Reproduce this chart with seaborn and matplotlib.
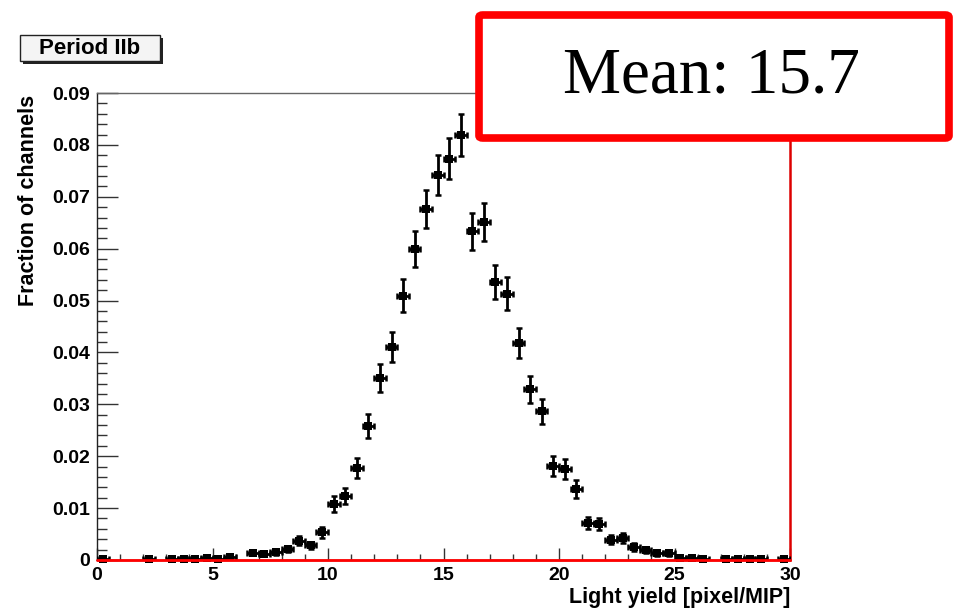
import numpy as np
import pandas as pd
import matplotlib
matplotlib.use("Agg")
import matplotlib.pyplot as plt
from matplotlib.patches import FancyBboxPatch, Rectangle
from matplotlib.ticker import MultipleLocator, FixedLocator
import seaborn as sns

# ---------------- data ----------------
bin_centers = [0.25, 2.25, 3.25, 3.75, 4.25, 4.75, 5.25, 5.75,
               6.75, 7.25, 7.75, 8.25, 8.75, 9.25, 9.75, 10.25, 10.75,
               11.25, 11.75, 12.25, 12.75, 13.25, 13.75, 14.25, 14.75,
               15.25, 15.75,
               16.25, 16.75, 17.25, 17.75, 18.25, 18.75, 19.25, 19.75,
               20.25, 20.75, 21.25, 21.75, 22.25, 22.75, 23.25, 23.75,
               24.25, 24.75, 25.25, 25.75,
               26.25, 27.25, 27.75, 28.25, 28.75, 29.75]
fractions = [0.0002, 0.0002, 0.0002, 0.0002, 0.0002, 0.0004, 0.0002, 0.0006,
             0.0014, 0.0012, 0.0016, 0.0021, 0.0037, 0.0028, 0.0053, 0.0108, 0.0123,
             0.0177, 0.0258, 0.0351, 0.0410, 0.0509, 0.0599, 0.0676, 0.0742,
             0.0773, 0.0819,
             0.0634, 0.0651, 0.0536, 0.0513, 0.0418, 0.0329, 0.0287, 0.0181,
             0.0175, 0.0137, 0.0071, 0.0069, 0.0039, 0.0042, 0.0025, 0.0019,
             0.0013, 0.0013, 0.0004, 0.0004,
             0.0002, 0.0002, 0.0002, 0.0002, 0.0002, 0.0002]
BIN_WIDTH = 0.5
N_CHANNELS = 5000          # Poisson errors: sqrt(N)/total
x_ticks = [0, 5, 10, 15, 20, 25, 30]
y_ticks = [0, 0.01, 0.02, 0.03, 0.04, 0.05, 0.06, 0.07, 0.08, 0.09]
y_tick_labels = ["0", "0.01", "0.02", "0.03", "0.04", "0.05", "0.06", "0.07", "0.08", "0.09"]
x_label = "Light yield [pixel/MIP]"
y_label = "Fraction of channels"
period_label = "Period IIb"
mean_label = "Mean: 15.7"

df = pd.DataFrame({"x": bin_centers, "y": fractions})
df["yerr"] = np.sqrt(df["y"] / N_CHANNELS)
df["xerr"] = BIN_WIDTH / 2

# ---------------- figure ----------------
sns.set_theme(style="white")
plt.rcParams["font.family"] = ["Liberation Sans", "DejaVu Sans"]
plt.rcParams["text.color"] = "black"
plt.rcParams["xtick.color"] = "black"
plt.rcParams["ytick.color"] = "black"

W, H = 961, 609
fig = plt.figure(figsize=(W / 100, H / 100), dpi=100)
fig.patch.set_facecolor("white")

def fx(px):
    return px / W

def fy(py):
    return 1 - py / H

ax_l, ax_r, ax_t, ax_b = 97, 790, 93, 560
ax = fig.add_axes([fx(ax_l), fy(ax_b), fx(ax_r - ax_l), fy(ax_t) - fy(ax_b)])
ax.set_facecolor("white")

ax.errorbar(df["x"], df["y"], yerr=df["yerr"], xerr=df["xerr"], fmt="none",
            ecolor="black", elinewidth=2.0, capsize=2.4, capthick=1.8, zorder=3)
sns.scatterplot(data=df, x="x", y="y", ax=ax, marker="s", s=30, color="black",
                edgecolor="black", linewidth=0, zorder=4, legend=False, clip_on=False)

ax.axhline(0, color="#ff0000", lw=2.0, zorder=5, clip_on=False)

ax.set_xlim(0, 30)
ax.set_ylim(0, 0.09)
ax.xaxis.set_major_locator(FixedLocator(x_ticks))
ax.xaxis.set_minor_locator(MultipleLocator(1))
ax.yaxis.set_major_locator(FixedLocator(y_ticks))
ax.set_yticklabels(y_tick_labels)
ax.yaxis.set_minor_locator(MultipleLocator(0.002))
ax.set_xticklabels([str(t) for t in x_ticks])

ax.tick_params(axis="x", which="major", direction="in", length=9, width=1.0,
               color="#333333", labelsize=14, pad=5, bottom=True, top=False)
ax.tick_params(axis="x", which="minor", direction="in", length=4.5, width=1.0,
               color="#333333", bottom=True, top=False)
ax.tick_params(axis="y", which="major", direction="in", length=15, width=1.0,
               color="#333333", labelsize=14, pad=5, left=True, right=False)
ax.tick_params(axis="y", which="minor", direction="in", length=7.5, width=1.0,
               color="#333333", left=True, right=False)
for lab in ax.get_xticklabels() + ax.get_yticklabels():
    lab.set_fontweight("bold")
    lab.set_color("black")

for side in ["left", "bottom"]:
    ax.spines[side].set_color("#222222")
    ax.spines[side].set_linewidth(1.0)
ax.spines["top"].set_color("#666666")
ax.spines["top"].set_linewidth(1.0)
ax.spines["right"].set_color("#dd0000")
ax.spines["right"].set_linewidth(1.8)

ax.set_xlabel("")
ax.set_ylabel("")
fig.text(fx(790), fy(598), x_label, ha="right", va="center",
         fontsize=15.5, fontweight="bold", color="black")
fig.text(fx(29), fy(200), y_label, ha="center", va="center", rotation=90,
         fontsize=15.5, fontweight="bold", color="black")

# "Period IIb" box with shadow
bx0, by0, bx1, by1 = 20, 35, 160, 61
fig.patches.append(Rectangle((fx(bx0 + 3), fy(by1 + 3)), fx(bx1 - bx0), fy(by0) - fy(by1),
                             transform=fig.transFigure, facecolor="#222222",
                             edgecolor="none", zorder=5))
fig.patches.append(Rectangle((fx(bx0), fy(by1)), fx(bx1 - bx0), fy(by0) - fy(by1),
                             transform=fig.transFigure, facecolor="#f4f4f4",
                             edgecolor="#222222", linewidth=1.0, zorder=6))
fig.text(fx((bx0 + bx1) / 2), fy((by0 + by1) / 2 + 1), period_label, ha="center",
         va="center", fontsize=16, fontweight="bold", color="black", zorder=7)

# "Mean" box
mx0, my0, mx1, my1 = 479, 15, 949, 138
fig.patches.append(FancyBboxPatch((fx(mx0), fy(my1)), fx(mx1 - mx0), fy(my0) - fy(my1),
                                  boxstyle="round,pad=0,rounding_size=0.004",
                                  transform=fig.transFigure, facecolor="white",
                                  edgecolor="#ff0000", linewidth=5.5, zorder=8))
fig.text(fx(711), fy(77), mean_label, ha="center", va="center", color="black",
         fontsize=47, family=["Liberation Serif", "DejaVu Serif"], zorder=9)

fig.savefig("out.png", dpi=100, facecolor="white")
